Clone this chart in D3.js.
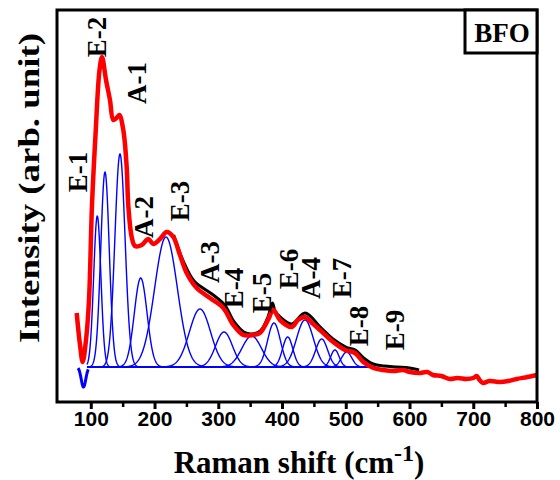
<!DOCTYPE html>
<html>
<head>
<meta charset="utf-8">
<script src="https://cdn.jsdelivr.net/npm/d3@7"></script>
<style>
  body { margin: 0; background: #fff; }
  .serif { font-family: "Liberation Serif", "Times New Roman", serif; font-weight: bold; }
  .tick text { font-family: "Liberation Sans", Arial, sans-serif; font-weight: bold; font-size: 21px; }
</style>
</head>
<body>
<div id="chart"></div>
<script>
// Raman spectrum (red), measured trace (black, mostly hidden) and fitted peaks (blue)
const ramanShift = [77.9, 83.1, 87.3, 92.5, 97.2, 101.9, 107.4, 113.7, 117.6, 123.9, 130.1, 135.3, 140.3, 144.7,
  151, 156.3, 158.8, 164.2, 169.4, 179.9, 190.2, 198.1, 208.6, 219.1, 229.4, 239.9, 250.4, 266.1, 287, 307.9,
  323.6, 339.2, 354.4, 365.4, 378, 386.3, 396.8, 415.2, 425, 436, 447, 459.5, 480.4, 498.8, 514.5, 527.5,
  543.2, 558.4, 575, 590, 600.7, 615, 628, 636.8, 650, 663.5, 675, 689.7, 700, 705.4, 710, 715.3, 725,
  741.9, 755, 768.1, 785, 799.5];
const intensity = [54, 22, 5, 27, 67, 162, 232, 297, 310, 287, 267, 247, 249, 252,
  237, 200, 162, 130, 121, 122, 128, 123, 128, 135, 130, 112, 94, 79, 69, 59,
  42, 32, 32, 34, 47, 57, 47, 40, 47, 50, 44, 37, 25, 17, 14, 5,
  -1, -3, -4, -3, -5, -6, -5, -8, -9, -12, -11, -12, -11, -9, -13, -16, -14,
  -15, -14, -12, -10, -8];

const measuredShift = [230, 245, 262, 290, 310, 325, 340, 352, 366, 378, 385, 389, 397, 415, 436,
  460, 480, 500, 515, 528, 543, 560, 580, 600, 615];
const measuredIntensity = [132, 106, 86, 73, 62, 45, 35, 33, 36, 50, 64, 56, 50, 43, 54,
  40, 28, 20, 17, 9, 3, 1, 0, -1, -3];

// fitted components: centre (cm-1), height, FWHM (cm-1)
const peakCenters = [110.2, 122.3, 145.8, 178.3, 218, 271.3, 309, 352.4, 387.4, 408.9, 436, 462.2, 483, 501.4];
const peakHeights = [151, 195, 213, 89, 130, 58, 35, 31, 44, 30, 47, 28, 17, 15];
const peakFwhm = [13.3, 15.7, 18.8, 23.5, 42, 39, 31, 36, 23.5, 19, 31, 22, 15.7, 19];
const fitRange = [94, 546];
const dipCenter = 88.6, dipHeight = -20, dipFwhm = 8.5, dipRange = [80, 96];

const modeLabels = ["E-1", "E-2", "A-1", "A-2", "E-3", "A-3", "E-4", "E-5", "E-6", "A-4", "E-7", "E-8", "E-9"];
const modeLabelShift = [80, 109.7, 172.5, 183.5, 240, 287, 324.6, 368.6, 411, 445.4, 494, 520.7, 577];
const modeLabelIntensity = [195, 330, 284, 150, 166, 105, 79, 74, 98, 89, 89, 41, 37];

const majorTicks = [100, 200, 300, 400, 500, 600, 700, 800];
const minorTicks = [150, 250, 350, 450, 550, 650, 750];

const width = 560;
const height = 480;

const svg = d3.select("#chart").append("svg")
  .attr("width", width)
  .attr("height", height);

const x = d3.scaleLinear().domain([47, 800]).range([57, 537]);
const y = d3.scaleLinear().domain([-35, 357]).range([402, 10]);

// gaussian component sampled across its range
function component(c, h, fwhm, range) {
  const s = fwhm / 2.3548;
  const pts = [];
  for (let v = range[0]; v <= range[1]; v += 0.5) {
    pts.push([v, h * Math.exp(-((v - c) ** 2) / (2 * s * s))]);
  }
  return pts;
}

const line = d3.line().x(d => x(d[0])).y(d => y(d[1]));

const blue = svg.append("g").attr("fill", "none").attr("stroke", "#0000ff").attr("stroke-width", 1.4);
peakCenters.forEach((c, i) => {
  blue.append("path").attr("d", line(component(c, peakHeights[i], peakFwhm[i], fitRange)));
});
blue.append("path")
  .attr("d", line(component(dipCenter, dipHeight, dipFwhm, dipRange)))
  .attr("stroke-width", 3);

const smooth = d3.line().x(d => x(d[0])).y(d => y(d[1])).curve(d3.curveCatmullRom);

svg.append("path")
  .attr("d", smooth(measuredShift.map((v, i) => [v, measuredIntensity[i]])))
  .attr("fill", "none")
  .attr("stroke", "#000")
  .attr("stroke-width", 3);

svg.append("path")
  .attr("d", smooth(ramanShift.map((v, i) => [v, intensity[i]])))
  .attr("fill", "none")
  .attr("stroke", "#ff0000")
  .attr("stroke-width", 4.5)
  .attr("stroke-linejoin", "round");

// mode labels
modeLabels.forEach((t, i) => {
  svg.append("text")
    .attr("class", "serif")
    .attr("transform", `translate(${x(modeLabelShift[i])},${y(modeLabelIntensity[i])}) rotate(-90)`)
    .attr("text-anchor", "middle")
    .attr("dy", "0.35em")
    .style("font-size", "27px")
    .text(t);
});

// x axis
const xAxis = svg.append("g")
  .attr("transform", "translate(0,402)")
  .call(d3.axisBottom(x).tickValues(majorTicks).tickSize(7).tickPadding(2).tickFormat(d3.format("d")));
xAxis.select(".domain").remove();
xAxis.selectAll(".tick line").attr("stroke-width", 3);

const xMinor = svg.append("g")
  .attr("transform", "translate(0,402)")
  .call(d3.axisBottom(x).tickValues(minorTicks).tickSize(5).tickFormat(""));
xMinor.select(".domain").remove();
xMinor.selectAll(".tick line").attr("stroke-width", 2.5);

// frame
svg.append("rect")
  .attr("x", 57).attr("y", 10)
  .attr("width", 480).attr("height", 392)
  .attr("fill", "none")
  .attr("stroke", "#000")
  .attr("stroke-width", 3);

// BFO box
svg.append("rect")
  .attr("x", 465).attr("y", 10)
  .attr("width", 72).attr("height", 43)
  .attr("fill", "#fff")
  .attr("stroke", "#000")
  .attr("stroke-width", 3);
svg.append("text")
  .attr("class", "serif")
  .attr("x", 502).attr("y", 42)
  .attr("text-anchor", "middle")
  .style("font-size", "27px")
  .text("BFO");

// axis titles
const xTitle = svg.append("text")
  .attr("class", "serif")
  .attr("x", 299).attr("y", 473)
  .attr("text-anchor", "middle")
  .style("font-size", "31px");
xTitle.append("tspan").text("Raman shift (cm");
xTitle.append("tspan").attr("dy", -12).style("font-size", "24px").text("-1");
xTitle.append("tspan").attr("dy", 12).text(")");

svg.append("text")
  .attr("class", "serif")
  .attr("transform", "translate(29,188) rotate(-90)")
  .attr("text-anchor", "middle")
  .attr("dy", "0.35em")
  .attr("textLength", 310)
  .attr("lengthAdjust", "spacingAndGlyphs")
  .style("font-size", "29px")
  .text("Intensity (arb. unit)");
</script>
</body>
</html>
